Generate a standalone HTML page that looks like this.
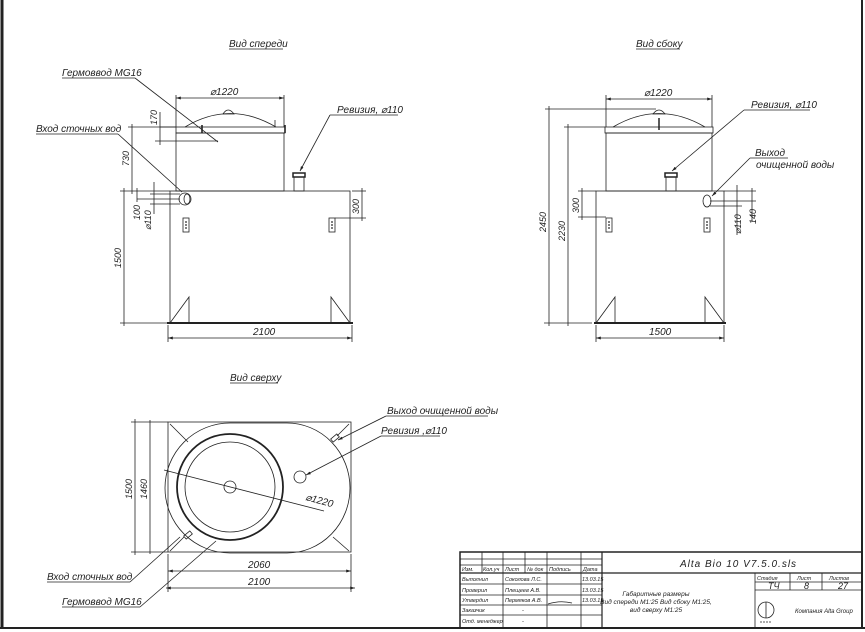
<!DOCTYPE html>
<html><head><meta charset="utf-8"><style>
html,body{margin:0;padding:0;background:#fff;}
svg{display:block;}
text{font-family:"Liberation Sans",sans-serif;font-style:italic;fill:#222;}
</style></head><body>
<svg width="865" height="632" viewBox="0 0 865 632" xmlns="http://www.w3.org/2000/svg">
<defs>
<marker id="a" viewBox="0 0 10 10" refX="10" refY="5" markerWidth="6" markerHeight="6" orient="auto-start-reverse"><path d="M0,2 L10,5 L0,8 z" fill="#222"/></marker>
<g id="pl"><rect x="0" y="0" width="6" height="14" fill="#fff" stroke="#222" stroke-width="0.8"/><circle cx="3" cy="4" r="0.9" fill="#222"/><circle cx="3" cy="7" r="0.9" fill="#222"/><circle cx="3" cy="10" r="0.9" fill="#222"/></g>
</defs>
<g stroke="#222" fill="none" stroke-width="0.8">
<line x1="2" y1="0" x2="2" y2="628" stroke-width="3"/>
<line x1="0" y1="628" x2="865" y2="628" stroke-width="2"/>
<line x1="862" y1="0" x2="862" y2="628" stroke-width="2"/>

<!-- FRONT VIEW -->
<rect x="170" y="191" width="180" height="132"/>
<line x1="167" y1="323" x2="353" y2="323" stroke-width="2"/>
<rect x="176" y="133" width="108" height="58"/>
<rect x="176" y="127" width="109" height="6"/>
<path d="M185,127 Q230,100 276,127"/>
<path d="M223,114 Q228,106 234,114 z" />
<line x1="202" y1="125" x2="202" y2="133" stroke-width="1.6"/>
<line x1="285" y1="125" x2="285" y2="133" stroke-width="1.6"/>
<line x1="275" y1="120" x2="275" y2="127"/>
<rect x="294" y="177" width="10" height="14"/>
<rect x="293" y="173" width="12" height="4" stroke-width="1.5"/>
<ellipse cx="185" cy="199" rx="6" ry="6"/>
<ellipse cx="187" cy="199" rx="3" ry="5"/>
<line x1="176" y1="127" x2="160" y2="127"/>
<path d="M170,323 L189,297 L189,323"/>
<path d="M350,323 L331,297 L331,323"/>
<line x1="176" y1="98" x2="284" y2="98" marker-start="url(#a)" marker-end="url(#a)"/>
<line x1="176" y1="95" x2="176" y2="127"/><line x1="284" y1="95" x2="284" y2="127"/>
<line x1="128" y1="127" x2="176" y2="127"/>
<line x1="155" y1="141" x2="218" y2="141"/>
<line x1="160" y1="112" x2="160" y2="145"/>
<line x1="132" y1="124" x2="132" y2="194"/>
<line x1="120" y1="191" x2="170" y2="191"/>
<line x1="124" y1="188" x2="124" y2="326"/>
<line x1="120" y1="323" x2="168" y2="323"/>
<line x1="137" y1="188" x2="137" y2="202"/>
<line x1="137" y1="199" x2="180" y2="199"/>
<line x1="150" y1="194" x2="180" y2="194"/><line x1="150" y1="204" x2="180" y2="204"/>
<line x1="154" y1="182" x2="154" y2="214"/>
<line x1="352" y1="191" x2="366" y2="191"/><line x1="335" y1="218" x2="366" y2="218"/>
<line x1="362" y1="188" x2="362" y2="221"/>
<line x1="168" y1="325" x2="168" y2="342"/><line x1="352" y1="325" x2="352" y2="342"/>
<line x1="168" y1="338" x2="352" y2="338" marker-start="url(#a)" marker-end="url(#a)"/>
<line x1="62" y1="78" x2="135" y2="78"/><line x1="135" y1="78" x2="218" y2="142"/>
<line x1="36" y1="134" x2="118" y2="134"/><line x1="118" y1="134" x2="182" y2="192"/>
<line x1="330" y1="115" x2="398" y2="115"/><line x1="330" y1="115" x2="300" y2="171" marker-end="url(#a)"/>
<line x1="229" y1="49" x2="283" y2="49"/>

<!-- SIDE VIEW -->
<rect x="596" y="191" width="128" height="132"/>
<line x1="594" y1="323" x2="726" y2="323" stroke-width="2"/>
<rect x="606" y="133" width="106" height="58"/>
<rect x="605" y="127" width="108" height="6"/>
<path d="M613,127 Q659,100 705,127"/>
<path d="M653,114 Q659,106 665,114 z"/>
<line x1="659" y1="118" x2="659" y2="130" stroke-width="1.5"/>
<rect x="666" y="177" width="10" height="14"/>
<rect x="665" y="173" width="12" height="4" stroke-width="1.5"/>
<ellipse cx="707" cy="201" rx="4" ry="6"/>
<path d="M596,323 L615,297 L615,323"/>
<path d="M724,323 L705,297 L705,323"/>
<line x1="606" y1="95" x2="606" y2="127"/><line x1="712" y1="95" x2="712" y2="127"/>
<line x1="606" y1="99" x2="712" y2="99" marker-start="url(#a)" marker-end="url(#a)"/>
<line x1="545" y1="109" x2="656" y2="109"/>
<line x1="564" y1="127" x2="605" y2="127"/>
<line x1="544" y1="323" x2="592" y2="323"/>
<line x1="549" y1="106" x2="549" y2="326"/>
<line x1="568" y1="124" x2="568" y2="326"/>
<line x1="578" y1="191" x2="596" y2="191"/><line x1="578" y1="217" x2="606" y2="217"/>
<line x1="582" y1="188" x2="582" y2="220"/>
<line x1="724" y1="191" x2="756" y2="191"/><line x1="710" y1="201" x2="756" y2="201"/><line x1="710" y1="206" x2="742" y2="206"/>
<line x1="737" y1="185" x2="737" y2="235"/><line x1="752" y1="188" x2="752" y2="222"/>
<line x1="596" y1="325" x2="596" y2="342"/><line x1="724" y1="325" x2="724" y2="342"/>
<line x1="596" y1="338" x2="724" y2="338" marker-start="url(#a)" marker-end="url(#a)"/>
<line x1="744" y1="110" x2="810" y2="110"/><line x1="744" y1="110" x2="672" y2="171" marker-end="url(#a)"/>
<line x1="750" y1="158" x2="788" y2="158"/><line x1="750" y1="158" x2="712" y2="196" marker-end="url(#a)"/>
<line x1="636" y1="49" x2="680" y2="49"/>

<!-- TOP VIEW -->
<rect x="168" y="422" width="183" height="130"/>
<path d="M230,423 L287,423 A63,65 0 0 1 287,553 L230,553 A65,65 0 0 1 230,423 Z"/>
<circle cx="230" cy="487" r="53" stroke-width="1.8"/>
<circle cx="230" cy="487" r="45"/>
<circle cx="230" cy="487" r="6"/>
<circle cx="300" cy="477" r="6"/>
<line x1="164" y1="470" x2="324" y2="511"/>
<line x1="170" y1="424" x2="188" y2="442"/><line x1="349" y1="424" x2="337" y2="436"/>
<line x1="349" y1="551" x2="333" y2="537"/><line x1="170" y1="551" x2="184" y2="537"/>
<rect x="331" y="436" width="8" height="4" transform="rotate(-40 335 438)"/>
<rect x="184" y="533" width="8" height="4" transform="rotate(-40 188 535)"/>
<line x1="131" y1="422" x2="168" y2="422"/><line x1="131" y1="552" x2="168" y2="552"/>
<line x1="135" y1="419" x2="135" y2="555"/><line x1="150" y1="420" x2="150" y2="554"/>
<line x1="168" y1="554" x2="168" y2="592"/><line x1="351" y1="554" x2="351" y2="592"/>
<line x1="168" y1="571" x2="351" y2="571" marker-start="url(#a)" marker-end="url(#a)"/>
<line x1="166" y1="588" x2="355" y2="588" marker-start="url(#a)" marker-end="url(#a)"/>
<line x1="386" y1="416" x2="488" y2="416"/><line x1="386" y1="416" x2="338" y2="440" marker-end="url(#a)"/>
<line x1="381" y1="436" x2="440" y2="436"/><line x1="381" y1="436" x2="306" y2="475" marker-end="url(#a)"/>
<line x1="47" y1="582" x2="130" y2="582"/><line x1="130" y1="582" x2="180" y2="537"/>
<line x1="62" y1="607" x2="140" y2="607"/><line x1="140" y1="607" x2="216" y2="541"/>
<line x1="230" y1="383" x2="278" y2="383"/>

<!-- TITLE BLOCK -->
<rect x="460" y="552" width="402" height="76" stroke-width="1.5"/>
<line x1="460" y1="559" x2="602" y2="559"/>
<line x1="460" y1="565" x2="602" y2="565"/>
<line x1="460" y1="573" x2="862" y2="573" stroke-width="1.2"/>
<line x1="460" y1="584" x2="602" y2="584"/>
<line x1="460" y1="595" x2="602" y2="595"/>
<line x1="460" y1="605" x2="602" y2="605"/>
<line x1="460" y1="615" x2="602" y2="615"/>
<line x1="482" y1="552" x2="482" y2="573"/>
<line x1="503" y1="552" x2="503" y2="628"/>
<line x1="525" y1="552" x2="525" y2="573"/>
<line x1="547" y1="552" x2="547" y2="628"/>
<line x1="581" y1="552" x2="581" y2="628"/>
<line x1="602" y1="552" x2="602" y2="628" stroke-width="1.2"/>
<line x1="755" y1="573" x2="755" y2="628"/>
<line x1="790" y1="573" x2="790" y2="590"/>
<line x1="822" y1="573" x2="822" y2="590"/>
<line x1="755" y1="582" x2="862" y2="582"/>
<line x1="755" y1="590" x2="862" y2="590"/>
<circle cx="766" cy="610" r="8"/>
<line x1="766" y1="602" x2="766" y2="618"/>
<line x1="760" y1="622" x2="772" y2="622" stroke-dasharray="2 1"/>
<path d="M548,604 Q560,600 572,603"/>
</g>
<use href="#pl" x="183" y="218"/><use href="#pl" x="329" y="218"/>
<use href="#pl" x="606" y="218"/><use href="#pl" x="704" y="218"/>

<g font-size="10">
<text x="229" y="47">Вид спереди</text>
<text x="636" y="47">Вид сбоку</text>
<text x="230" y="381">Вид сверху</text>
<text x="62" y="76">Гермоввод MG16</text>
<text x="36" y="132">Вход сточных вод</text>
<text x="337" y="113">Ревизия, ⌀110</text>
<text x="210" y="95">⌀1220</text>
<text x="253" y="335">2100</text>
<text x="751" y="108">Ревизия, ⌀110</text>
<text x="755" y="156">Выход</text>
<text x="756" y="168">очищенной воды</text>
<text x="644" y="96">⌀1220</text>
<text x="649" y="335">1500</text>
<text x="387" y="414">Выход очищенной воды</text>
<text x="381" y="434">Ревизия ,⌀110</text>
<text x="47" y="580">Вход сточных вод</text>
<text x="62" y="605">Гермоввод MG16</text>
<text x="248" y="568">2060</text>
<text x="248" y="585">2100</text>
<text transform="translate(305,500) rotate(15)">⌀1220</text>
<g font-size="9">
<text transform="translate(157,125) rotate(-90)">170</text>
<text transform="translate(129,166) rotate(-90)">730</text>
<text transform="translate(121,268) rotate(-90)">1500</text>
<text transform="translate(140,220) rotate(-90)">100</text>
<text transform="translate(151,230) rotate(-90)">⌀110</text>
<text transform="translate(359,214) rotate(-90)">300</text>
<text transform="translate(546,232) rotate(-90)">2450</text>
<text transform="translate(565,241) rotate(-90)">2230</text>
<text transform="translate(579,213) rotate(-90)">300</text>
<text transform="translate(741,234) rotate(-90)">⌀110</text>
<text transform="translate(756,224) rotate(-90)">140</text>
<text transform="translate(132,499) rotate(-90)">1500</text>
<text transform="translate(147,499) rotate(-90)">1460</text>
</g>
<g font-size="5.5">
<text x="462" y="571">Изм.</text><text x="483" y="571">Кол.уч</text><text x="505" y="571">Лист</text><text x="527" y="571">№ док</text><text x="549" y="571">Подпись</text><text x="583" y="571">Дата</text>
<text x="462" y="581">Выполнил</text><text x="505" y="581">Соколова Л.С.</text><text x="582" y="581">13.03.15</text>
<text x="462" y="592">Проверил</text><text x="505" y="592">Плещеев А.В.</text><text x="582" y="592">13.03.15</text>
<text x="462" y="602">Утвердил</text><text x="505" y="602">Пермяков А.В.</text><text x="582" y="602">13.03.15</text>
<text x="462" y="612">Заказчик</text><text x="522" y="612">-</text>
<text x="462" y="623">Отд. менеджер</text><text x="522" y="623">-</text>
<text x="757" y="580">Стадия</text><text x="797" y="580">Лист</text><text x="829" y="580">Листов</text>
<text x="795" y="613" font-size="6">Компания Alta Group</text>
</g>
<text x="680" y="567" font-size="10" letter-spacing="1">Alta Bio 10 V7.5.0.sls</text>
<text x="768" y="589" font-size="9">ТЧ</text><text x="804" y="589" font-size="9">8</text><text x="838" y="589" font-size="9">27</text>
<g font-size="6.5" text-anchor="middle">
<text x="656" y="596">Габаритные размеры</text>
<text x="656" y="604">Вид спереди М1:25 Вид сбоку М1:25,</text>
<text x="656" y="612">вид сверху М1:25</text>
</g>
</g>
</svg>
</body></html>
